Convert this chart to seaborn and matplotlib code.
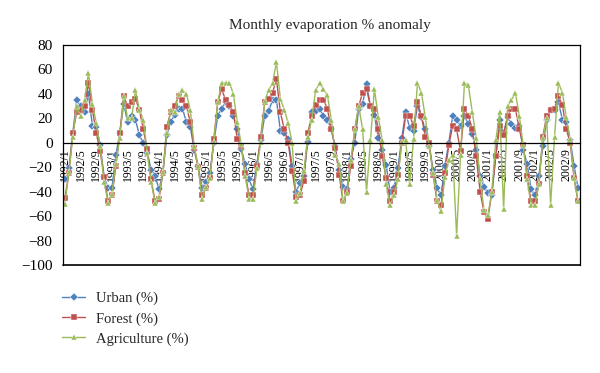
import matplotlib
matplotlib.use("Agg")
import matplotlib.pyplot as plt
import seaborn as sns
import numpy as np
import pandas as pd

years = list(range(1992, 2003))
months = [f"{y}/{m}" for y in years for m in range(1, 13)]

urban = [
    -30, -21, 8, 35, 30, 25, 40, 14, 13, -2, -28, -37,
    -37, -10, 8, 32, 17, 22, 19, 6, 0, -8, -22, -27,
    -38, -25, 6, 17, 23, 28, 28, 17, 13, -6, -19, -37,
    -32, -25, 0, 22, 28, 33, 30, 22, 11, -5, -17, -30,
    -38, -17, 2, 22, 26, 35, 35, 10, 8, 3, -19, -40,
    -33, -27, 1, 25, 26, 28, 22, 19, 11, -3, -22, -36,
    -38, -13, 0, 28, 32, 48, 30, 23, 4, -6, -18, -40,
    -37, -21, 4, 25, 12, 10, 30, 21, 11, -3, -22, -37,
    -43, -19, 0, 22, 19, 14, 22, 15, 7, -6, -27, -36,
    -41, -43, -10, 19, 8, 21, 15, 12, 14, -6, -17, -38,
    -43, -27, -3, 19, 27, 27, 33, 19, 17, 2, -19, -37,
]
forest = [
    -45, -25, 8, 25, 27, 30, 49, 27, 8, -7, -28, -48,
    -43, -19, 8, 38, 30, 33, 36, 27, 11, -5, -30, -48,
    -46, -25, 13, 25, 30, 38, 35, 30, 17, -4, -20, -43,
    -37, -29, 3, 33, 44, 35, 31, 25, 3, -3, -25, -43,
    -43, -19, 5, 33, 36, 41, 52, 25, 11, 0, -23, -44,
    -43, -31, 8, 22, 31, 35, 35, 28, 11, -4, -26, -48,
    -40, -19, 11, 30, 41, 44, 30, 28, 11, -11, -29, -48,
    -40, -26, 0, 22, 22, 14, 33, 22, 5, 0, -26, -48,
    -51, -25, -2, 14, 11, -7, 28, 22, 11, -11, -40, -57,
    -62, -40, -11, 14, 6, 22, 28, 28, 11, -2, -27, -48,
    -48, -34, 5, 22, 27, 28, 38, 31, 11, 0, -29, -48,
]
agriculture = [
    -50, -24, 5, 30, 22, 35, 57, 32, 16, -3, -32, -49,
    -42, -17, 4, 38, 20, 20, 43, 27, 19, -8, -32, -49,
    -44, -24, 8, 27, 25, 40, 43, 40, 27, -3, -19, -46,
    -36, -29, 1, 33, 49, 49, 49, 40, 17, -1, -27, -46,
    -46, -21, 1, 34, 43, 49, 66, 36, 27, 16, 0, -48,
    -41, -23, 5, 19, 43, 49, 44, 39, 19, -10, -17, -48,
    -41, -14, 11, 30, 11, -40, 2, 44, 21, 2, -34, -51,
    -43, -30, 1, 2, -34, 3, 49, 41, 21, -3, -25, -47,
    -56, -28, -14, -10, -76, -10, 49, 47, 25, 4, -30, -55,
    -59, -40, 2, 25, -54, 30, 35, 41, 22, -2, -30, -51,
    -51, -34, 4, 20, -51, 5, 49, 41, 21, 3, -29, -48,
]
series_names = ["Urban (%)", "Forest (%)", "Agriculture (%)"]
colors = ["#4F81BD", "#C0504D", "#9BBB59"]
markers = ["D", "s", "^"]

frames = []
for name, vals in zip(series_names, [urban, forest, agriculture]):
    frames.append(pd.DataFrame({"idx": np.arange(len(vals)), "value": vals, "series": name}))
df = pd.concat(frames, ignore_index=True)

sns.set_style("white")
plt.rcParams["font.family"] = ["Liberation Serif", "DejaVu Serif"]

fig = plt.figure(figsize=(6.0, 3.73), dpi=100)
ax = fig.add_axes([63/600, 1-265/373, 517/600, 220/373])

sns.lineplot(data=df, x="idx", y="value", hue="series", style="series",
             palette=dict(zip(series_names, colors)),
             markers=dict(zip(series_names, markers)), dashes=False,
             markersize=4, linewidth=1.0, markeredgewidth=0.3,
             ax=ax, legend=True)

handles, labels = ax.get_legend_handles_labels()
ax.get_legend().remove()

ax.spines["bottom"].set_position(("data", 0))
ax.set_xlim(-0.5, len(months) - 0.5)
ax.set_ylim(-100, 80)
ax.set_yticks(np.arange(-100, 81, 20))
ax.set_xticks(np.arange(len(months)))
ax.set_xticklabels([m if i % 4 == 0 else "" for i, m in enumerate(months)])
ax.set_xlabel("")
ax.set_ylabel("")
for s in ["left", "right", "top", "bottom"]:
    ax.spines[s].set_color("black")
    ax.spines[s].set_linewidth(0.9)
ax.axhline(-100, color="black", lw=1.2, clip_on=False, zorder=5)
ax.tick_params(axis="x", direction="out", length=3, width=0.8, pad=1,
               colors="black", labelrotation=90, labelsize=8.5)
ax.tick_params(axis="y", direction="out", length=4, width=0.8, labelsize=11, colors="black")
ax.grid(False)

fig.suptitle("Monthly evaporation % anomaly", x=330/600, y=1-19/373, fontsize=11)

fig.legend(handles, labels, loc="upper left", bbox_to_anchor=(62/600, 1-292/373),
           frameon=False, fontsize=10.5, handlelength=1.6, handletextpad=0.7,
           labelspacing=0.45, borderpad=0, borderaxespad=0)

fig.savefig("out.png", dpi=100)
